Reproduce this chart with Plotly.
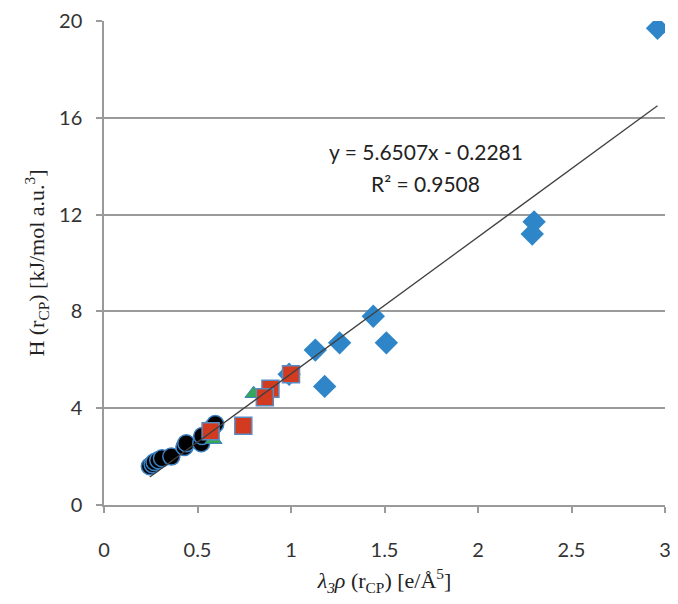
import plotly.graph_objects as go

# Data
diamond_x = [2.96, 2.30, 2.29, 1.44, 1.51, 1.26, 1.13, 1.18, 0.99]
diamond_y = [19.7, 11.7, 11.2, 7.8, 6.7, 6.7, 6.4, 4.9, 5.4]

square_x = [1.00, 0.89, 0.86, 0.745, 0.57]
square_y = [5.4, 4.8, 4.45, 3.27, 3.05]

triangle_x = [0.80, 0.585]
triangle_y = [4.6, 2.7]

circle_x = [0.245, 0.26, 0.27, 0.29, 0.31, 0.36, 0.43, 0.44, 0.52, 0.525, 0.58, 0.595]
circle_y = [1.6, 1.68, 1.78, 1.85, 1.93, 2.0, 2.4, 2.55, 2.55, 2.85, 3.2, 3.35]

slope = 5.6507
intercept = -0.2281
r_squared = 0.9508

x_ticks = [0, 0.5, 1, 1.5, 2, 2.5, 3]
x_tick_labels = ["0", "0.5", "1", "1.5", "2", "2.5", "3"]
y_ticks = [0, 4, 8, 12, 16, 20]
y_tick_labels = ["0", "4", "8", "12", "16", "20"]

all_x = diamond_x + square_x + triangle_x + circle_x
x0, x1 = min(all_x), max(all_x)

fig = go.Figure()

fig.add_trace(go.Scatter(x=circle_x, y=circle_y, mode="markers",
                         marker=dict(symbol="circle", size=17, color="black",
                                     line=dict(color="#3A7FC0", width=1.5))))
fig.add_trace(go.Scatter(x=triangle_x, y=triangle_y, mode="markers",
                         marker=dict(symbol="triangle-up", size=15, color="#35A854",
                                     line=dict(color="#3A7FC0", width=1))))
fig.add_trace(go.Scatter(x=diamond_x, y=diamond_y, mode="markers",
                         marker=dict(symbol="diamond", size=18, color="#2E86C8",
                                     line=dict(width=0))))
fig.add_trace(go.Scatter(x=square_x, y=square_y, mode="markers",
                         marker=dict(symbol="square", size=17, color="#D23B20",
                                     line=dict(color="#5A8CC4", width=1.5))))
fig.add_trace(go.Scatter(x=[x0, x1], y=[slope * x0 + intercept, slope * x1 + intercept],
                         mode="lines", line=dict(color="#404040", width=1.3)))

ann_font = dict(family="Lato, Liberation Sans, sans-serif", size=21, color="#222")
fig.add_annotation(x=1.72, y=14.6, xref="x", yref="y",
                   text=f"y = {slope}x - {abs(intercept)}", showarrow=False, font=ann_font)
fig.add_annotation(x=1.72, y=13.3, xref="x", yref="y",
                   text=f"R² = {r_squared}", showarrow=False, font=ann_font)

axis_font = dict(family="Lato, Liberation Sans, sans-serif", size=20, color="#333")
title_font = dict(family="Liberation Serif, Times New Roman, serif", size=22, color="#222")

fig.update_layout(
    width=670, height=588,
    margin=dict(l=96, r=13, t=13, b=91),
    paper_bgcolor="white", plot_bgcolor="white",
    showlegend=False,
    xaxis=dict(range=[0, 3], tickvals=x_ticks, ticktext=x_tick_labels, automargin=False,
               ticklabeloverflow="allow",
               showgrid=False, zeroline=False, showline=True, linecolor="#9a9a9a", linewidth=1.5,
               ticks="outside", ticklen=6, tickcolor="#9a9a9a", tickwidth=1.5,
               tickfont=axis_font, ticklabelstandoff=20,
               title=dict(text="<i>λ<sub>3</sub>ρ</i> (r<sub>CP</sub>) [e/Å<sup>5</sup>]",
                          font=title_font, standoff=22)),
    yaxis=dict(range=[0, 20], tickvals=y_ticks, ticktext=y_tick_labels, automargin=False,
               showgrid=True, gridcolor="#9a9a9a", gridwidth=1.5,
               zeroline=False, showline=True, linecolor="#9a9a9a", linewidth=1.5,
               ticks="outside", ticklen=6, tickcolor="#9a9a9a", tickwidth=1.5,
               tickfont=axis_font, ticklabelstandoff=10,
               title=dict(text="H (r<sub>CP</sub>) [kJ/mol a.u.<sup>3</sup>]",
                          font=title_font, standoff=8)),
)

fig.write_html("out.html")
